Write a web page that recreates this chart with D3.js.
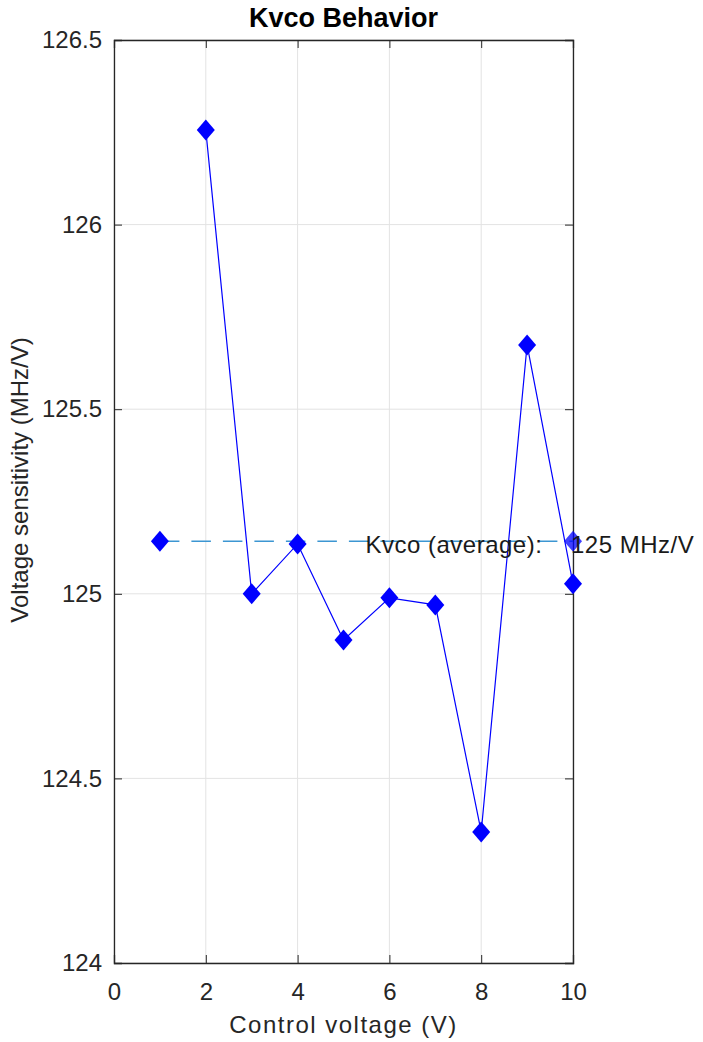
<!DOCTYPE html>
<html>
<head>
<meta charset="utf-8">
<script src="https://cdn.jsdelivr.net/npm/d3@7"></script>
<style>
  body { margin: 0; background: #fff; }
  text { font-family: "Liberation Sans", Arial, sans-serif; }
</style>
</head>
<body>
<div id="chart"></div>
<script>
// data
var controlVoltage = [2, 3, 4, 5, 6, 7, 8, 9, 10]
var sensitivity = [126.256, 125.0, 125.135, 124.875, 124.989, 124.970, 124.355, 125.674, 125.027]
var avgX = [1, 10]
var avgLabel = "Kvco (average):    125 MHz/V"
var xTicks = [0, 2, 4, 6, 8, 10]
var yTicks = [124, 124.5, 125, 125.5, 126, 126.5]

var width = 703
    height = 1042
    margin = {top: 40, right: 130, bottom: 79, left: 114}

var avg = d3.mean(sensitivity)

var svg = d3.select("#chart")
  .append("svg")
    .attr("width", width)
    .attr("height", height)

var x = d3.scaleLinear().domain([0, 10]).range([margin.left, width - margin.right])
var y = d3.scaleLinear().domain([124, 126.5]).range([height - margin.bottom, margin.top])

var x0 = x.range()[0], x1 = x.range()[1], y0 = y.range()[0], y1 = y.range()[1]

// grid
svg.append("g").selectAll("line").data(xTicks).enter().append("line")
  .attr("x1", d => x(d)).attr("x2", d => x(d))
  .attr("y1", y0).attr("y2", y1)
  .attr("stroke", "#e3e3e3").attr("stroke-width", 1)
svg.append("g").selectAll("line").data(yTicks).enter().append("line")
  .attr("x1", x0).attr("x2", x1)
  .attr("y1", d => y(d)).attr("y2", d => y(d))
  .attr("stroke", "#e3e3e3").attr("stroke-width", 1)

// axes (ticks pointing inward, on all four sides)
var tk = 8
svg.append("g").attr("transform", "translate(0," + y0 + ")")
  .call(d3.axisBottom(x).tickValues(xTicks).tickSize(-tk).tickPadding(20).tickFormat(d3.format("d")))
svg.append("g").attr("transform", "translate(0," + y1 + ")")
  .call(d3.axisTop(x).tickValues(xTicks).tickSize(-tk).tickFormat(""))
svg.append("g").attr("transform", "translate(" + x0 + ",0)")
  .call(d3.axisLeft(y).tickValues(yTicks).tickSize(-tk).tickPadding(12).tickFormat(d3.format("")))
svg.append("g").attr("transform", "translate(" + x1 + ",0)")
  .call(d3.axisRight(y).tickValues(yTicks).tickSize(-tk).tickFormat(""))

svg.selectAll(".domain").attr("stroke", "#262626").attr("stroke-width", 1.3)
svg.selectAll(".tick line").attr("stroke", "#262626")
svg.selectAll(".tick text").attr("fill", "#262626").style("font-size", "24px")

// average line
svg.append("line")
  .attr("x1", x(avgX[0])).attr("x2", x(avgX[1]))
  .attr("y1", y(avg)).attr("y2", y(avg))
  .attr("stroke", "#3c96d2").attr("stroke-width", 1.6)
  .attr("stroke-dasharray", "19.5,12")

// data line
var line = d3.line().x((d, i) => x(controlVoltage[i])).y(d => y(d))
svg.append("path")
  .datum(sensitivity)
  .attr("d", line)
  .attr("fill", "none")
  .attr("stroke", "#0000ff")
  .attr("stroke-width", 1.2)

var diamond = "M0,-10.5L9,0L0,10.5L-9,0Z"

svg.selectAll(".pt").data(sensitivity).enter().append("path")
  .attr("class", "pt")
  .attr("d", diamond)
  .attr("transform", (d, i) => "translate(" + x(controlVoltage[i]) + "," + y(d) + ")")
  .attr("fill", "#0000ff")

svg.selectAll(".avgpt").data(avgX).enter().append("path")
  .attr("class", "avgpt")
  .attr("d", diamond)
  .attr("transform", d => "translate(" + x(d) + "," + y(avg) + ")")
  .attr("fill", "#0000ff")
  .attr("opacity", d => d == 10 ? 0.75 : 1)

// label for average
svg.append("text")
  .attr("x", x(5.5) - 1).attr("y", y(avg) + 12)
  .attr("fill", "#1a1a1a")
  .style("font-size", "24px")
  .style("letter-spacing", "0.5px")
  .style("white-space", "pre")
  .attr("xml:space", "preserve")
  .text(avgLabel)

// title and axis labels
svg.append("text")
  .attr("x", (x0 + x1) / 2).attr("y", 27)
  .attr("text-anchor", "middle")
  .style("font-size", "27px").style("font-weight", "bold")
  .attr("fill", "#000")
  .text("Kvco Behavior")

svg.append("text")
  .attr("x", (x0 + x1) / 2).attr("y", 1033)
  .attr("text-anchor", "middle")
  .style("font-size", "24px")
  .style("letter-spacing", "1.5px")
  .attr("fill", "#262626")
  .text("Control voltage (V)")

svg.append("text")
  .attr("transform", "translate(28,480) rotate(-90)")
  .attr("text-anchor", "middle")
  .style("font-size", "24px")
  .attr("fill", "#262626")
  .text("Voltage sensitivity (MHz/V)")
</script>
</body>
</html>
